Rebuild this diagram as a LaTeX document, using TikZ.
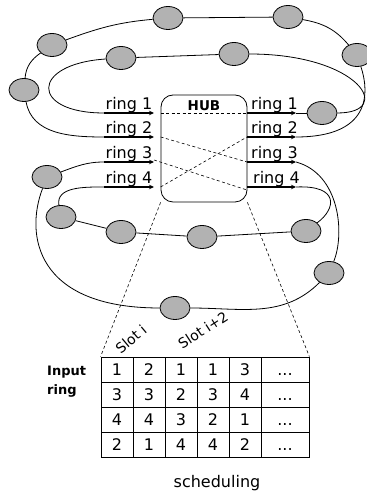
\documentclass[tikz,border=0pt]{standalone}
\usepackage{fontspec}
\setmainfont{DejaVu Sans}
\usetikzlibrary{shapes.geometric,arrows.meta}

\begin{document}
\begin{tikzpicture}[x=1pt,y=1pt,
	station/.style={ellipse,draw,fill=gray!60,minimum width=30pt,minimum height=23pt,inner sep=0pt,line width=0.8pt},
	ringline/.style={line width=0.8pt},
	port/.style={line width=1.6pt,-{Stealth[length=5pt,width=4.5pt]}},
	portlabel/.style={anchor=base,inner sep=0pt,font=\fontsize{16}{16}\selectfont},
	swap/.style={line width=0.6pt,dash pattern=on 3pt off 2.5pt},
	cell/.style={draw,line width=0.8pt,minimum width=32pt,minimum height=25pt,inner sep=0pt,text height=11.7pt,text depth=0pt,font=\fontsize{16}{16}\selectfont}]
\useasboundingbox (0,0) rectangle (366,494);

% stations of the four rings
\node[station] (o1) at (24,404) {};
\node[station] (o2) at (52,449) {};
\node[station] (o3) at (168,476) {};
\node[station] (o4) at (288,477) {};
\node[station] (o5) at (357,439) {};
\node[station] (i1) at (121,436) {};
\node[station] (i2) at (234,440) {};
\node[station] (i3) at (322,381) {};
\node[station] (t1) at (47,317) {};
\node[station] (t2) at (329,221) {};
\node[station] (t3) at (175,186) {};
\node[station] (f1) at (61,277) {};
\node[station] (f2) at (121,262) {};
\node[station] (f3) at (202,257) {};
\node[station] (f4) at (306,263) {};

% hub
\node[draw,line width=0.8pt,rounded corners=12pt,minimum width=86pt,minimum height=107pt] (hub) at (204,345.5) {};
\node[anchor=north,inner sep=0pt,font=\bfseries\fontsize{13.5}{13.5}\selectfont] (hubname) at ([yshift=-6pt]hub.north) {HUB};

% ports
\coordinate (l1a) at (104,381); \coordinate (l1b) at (154,381);
\coordinate (l2a) at (104,357); \coordinate (l2b) at (154,357);
\coordinate (l3a) at (104,332); \coordinate (l3b) at (154,332);
\coordinate (l4a) at (104,307); \coordinate (l4b) at (154,307);
\coordinate (r1a) at (247,381); \coordinate (r1b) at (296,381);
\coordinate (r2a) at (247,357); \coordinate (r2b) at (296,357);
\coordinate (r3a) at (247,332); \coordinate (r3b) at (296,332);
\coordinate (r4a) at (247,307); \coordinate (r4b) at (296,307);

\draw[port] (l1a) -- (l1b) node[portlabel,midway,yshift=3pt] {ring 1};
\draw[port] (l2a) -- (l2b) node[portlabel,midway,yshift=3pt] {ring 2};
\draw[port] (l3a) -- (l3b) node[portlabel,midway,yshift=3pt] {ring 3};
\draw[port] (l4a) -- (l4b) node[portlabel,midway,yshift=3pt] {ring 4};
\draw[port] (r1a) -- (r1b) node[portlabel,midway,xshift=3pt,yshift=3pt] {ring 1};
\draw[port] (r2a) -- (r2b) node[portlabel,midway,xshift=3pt,yshift=3pt] {ring 2};
\draw[port] (r3a) -- (r3b) node[portlabel,midway,xshift=3pt,yshift=3pt] {ring 3};
\draw[port] (r4a) -- (r4b) node[portlabel,midway,xshift=5pt,yshift=3pt] {ring 4};

% switching inside the hub
\draw[swap] (hub.west|-l1b) -- (r1a);
\draw[swap] (hub.west|-l2b) -- (r3a);
\draw[swap] ([yshift=2pt]l3b) -- ([yshift=-3pt]r4a);
\draw[swap] (hub.west|-l4b) -- (r2a);

% ring 1
\draw[ringline] (i1) .. controls (30,430) and (30,381) .. (l1a);
\draw[ringline] (i1) -- (i2);
\draw[ringline] (i2) .. controls (360,440) and (395,381) .. (i3);
\draw[ringline] (r1b) -- (i3);
% ring 2
\draw[ringline] (o1) to[out=-80,in=180] (l2a);
\draw[ringline] (o1) to[out=85,in=215] (o2);
\draw[ringline] (o2) to[out=20,in=185] (o3);
\draw[ringline] (o3) -- (o4);
\draw[ringline] (o4) to[out=-10,in=130] (o5);
\draw[ringline] (o5) .. controls (370,400) and (370,357) .. (r2b);
% ring 3
\draw[ringline] (t1) to[out=20,in=180] (l3a);
\draw[ringline] (r3b) .. controls (340,320) and (345,260) .. (t2);
\draw[ringline] (t2) to[out=-135,in=0] (t3);
\draw[ringline] (t3) .. controls (35,186) and (25,260) .. (t1);
% ring 4
\draw[ringline] (f1) to[out=100,in=180] (l4a);
\draw[ringline] (r4b) .. controls (340,309) and (336,285) .. (f4);
\draw[ringline] (f4) -- (f3);
\draw[ringline] (f3) -- (f2);
\draw[ringline] (f2) -- (f1);

% schedule table
\foreach \slots [count=\r] in {{1,2,1,1,3},{3,3,2,3,4},{4,4,3,2,1},{2,1,4,4,2}} {
	\foreach \v [count=\c] in \slots
		\node[cell] (sched-\r-\c) at (85+32*\c,149.5-25*\r) {\v};
	\node[cell,minimum width=48pt] (sched-\r-6) at (285,149.5-25*\r) {...};
}

\draw[swap] (hub.south west) -- (sched-1-1.north west);
\draw[swap] (hub.south east) -- (sched-1-6.north east);

\node[anchor=west,align=left,inner sep=0pt,font=\bfseries\fontsize{13}{19}\selectfont] (inputring) at (47,112) {Input\\ring};
\node[rotate=40,inner sep=0pt,font=\fontsize{14}{14}\selectfont] (slotone) at (131,155) {Slot i};
\node[rotate=33,inner sep=0pt,font=\fontsize{14}{14}\selectfont] (slotthree) at (203,164) {Slot i+2};
\node[inner sep=0pt,font=\fontsize{16}{16}\selectfont] (caption) at (217,11) {scheduling};
\end{tikzpicture}
\end{document}
